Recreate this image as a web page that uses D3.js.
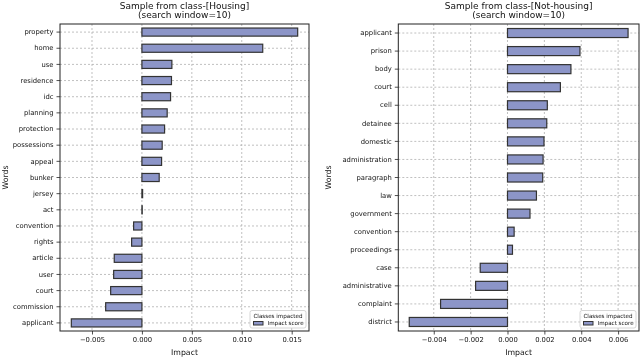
<!DOCTYPE html>
<meta charset="utf-8">
<style>
    body { margin: 0; background: #fff; }
    svg { display: block; font-family: "DejaVu Sans", sans-serif; will-change: transform; }
</style>
<body>
<script src="https://cdn.jsdelivr.net/npm/d3@7"></script>
<script>
// left panel: class Housing
var housingWords = ["property", "home", "use", "residence", "idc", "planning", "protection",
    "possessions", "appeal", "bunker", "jersey", "act", "convention", "rights", "article",
    "user", "court", "commission", "applicant"];
var housingImpact = [0.0156, 0.0121, 0.0030, 0.00296, 0.00287, 0.00253, 0.00227,
    0.00203, 0.00197, 0.00173, 0.00007, 0.00003, -0.00083, -0.00103, -0.00277,
    -0.00283, -0.00313, -0.00363, -0.00707];
var housingTicks = [-0.005, 0.000, 0.005, 0.010, 0.015];

// right panel: class Not-housing
var notHousingWords = ["applicant", "prison", "body", "court", "cell", "detainee", "domestic",
    "administration", "paragraph", "law", "government", "convention", "proceedings", "case",
    "administrative", "complaint", "district"];
var notHousingImpact = [0.00654, 0.00393, 0.00344, 0.00287, 0.00216, 0.00213, 0.00198,
    0.00193, 0.00191, 0.00157, 0.00122, 0.00036, 0.00027, -0.00148,
    -0.00173, -0.00363, -0.00533];
var notHousingTicks = [-0.004, -0.002, 0.000, 0.002, 0.004, 0.006];

var width = 640, height = 358;
var svg = d3.select("body").append("svg")
    .attr("width", width)
    .attr("height", height);

function drawPanel(opts) {
    var words = opts.words, vals = opts.values;
    var lo = d3.min(vals), hi = d3.max(vals), pad = (hi - lo) * 0.05;

    var x = d3.scaleLinear().domain([lo - pad, hi + pad]).range([opts.left, opts.right]);
    var y = d3.scaleBand().domain(words).range([opts.top, opts.bottom])
        .paddingInner(0.5).paddingOuter(0.25);

    var g = svg.append("g");

    // grid
    g.selectAll(".vgrid").data(opts.ticks).enter().append("line")
        .attr("x1", function (d) { return x(d); })
        .attr("x2", function (d) { return x(d); })
        .attr("y1", opts.top).attr("y2", opts.bottom)
        .attr("stroke", "#b0b0b0").attr("stroke-width", 0.8)
        .attr("stroke-dasharray", "2,2");
    g.selectAll(".hgrid").data(words).enter().append("line")
        .attr("x1", opts.left).attr("x2", opts.right)
        .attr("y1", function (d) { return y(d) + y.bandwidth() / 2; })
        .attr("y2", function (d) { return y(d) + y.bandwidth() / 2; })
        .attr("stroke", "#b0b0b0").attr("stroke-width", 0.8)
        .attr("stroke-dasharray", "2,2");

    // bars
    g.selectAll(".bar").data(vals).enter().append("rect")
        .attr("x", function (d) { return x(Math.min(0, d)); })
        .attr("y", function (d, i) { return y(words[i]); })
        .attr("width", function (d) { return Math.abs(x(d) - x(0)); })
        .attr("height", y.bandwidth())
        .attr("fill", "#8c95c8")
        .attr("stroke", "#333")
        .attr("stroke-width", 1.2);

    // axes
    var xAxis = d3.axisBottom(x).tickValues(opts.ticks).tickSize(3.5).tickPadding(3)
        .tickFormat(d3.format(".3f"));
    var ax = g.append("g").attr("transform", "translate(0," + opts.bottom + ")").call(xAxis);
    var yAxis = d3.axisLeft(y).tickSize(3.5).tickPadding(3);
    var ay = g.append("g").attr("transform", "translate(" + opts.left + ",0)").call(yAxis);
    [ax, ay].forEach(function (a) {
        a.select(".domain").remove();
        a.selectAll("text").attr("font-size", 6.8).attr("fill", "#111")
            .attr("font-family", "DejaVu Sans, sans-serif");
        a.selectAll("line").attr("stroke", "#222").attr("stroke-width", 0.8);
    });
    ax.selectAll("text").text(function (d) { return d3.format(".3f")(d).replace("-", "\u2212"); });

    // frame
    g.append("rect")
        .attr("x", opts.left).attr("y", opts.top)
        .attr("width", opts.right - opts.left).attr("height", opts.bottom - opts.top)
        .attr("fill", "none").attr("stroke", "#222").attr("stroke-width", 1);

    // titles
    var cx = (opts.left + opts.right) / 2;
    g.append("text").attr("x", cx).attr("y", 8.5).attr("text-anchor", "middle")
        .attr("font-size", 9).attr("fill", "#111").text(opts.title);
    g.append("text").attr("x", cx).attr("y", 18).attr("text-anchor", "middle")
        .attr("font-size", 9).attr("fill", "#111").text("(search window=10)");
    g.append("text").attr("x", cx).attr("y", 355).attr("text-anchor", "middle")
        .attr("font-size", 7.8).attr("fill", "#111").text("Impact");
    g.append("text")
        .attr("transform", "translate(" + opts.ylabelX + "," + ((opts.top + opts.bottom) / 2) + ") rotate(-90)")
        .attr("text-anchor", "middle").attr("font-size", 7.8).attr("fill", "#111").text("Words");

    // legend
    var lw = 56, lh = 17.5, lx = opts.right - 3 - lw, ly = opts.bottom - 3 - lh;
    var leg = g.append("g").attr("transform", "translate(" + lx + "," + ly + ")");
    leg.append("rect").attr("width", lw).attr("height", lh).attr("rx", 2)
        .attr("fill", "#fff").attr("fill-opacity", 0.85)
        .attr("stroke", "#ccc").attr("stroke-width", 0.8);
    leg.append("text").attr("x", lw / 2).attr("y", 7).attr("text-anchor", "middle")
        .attr("font-size", 5.6).attr("fill", "#111").text("Classes impacted");
    leg.append("rect").attr("x", 3.5).attr("y", 11).attr("width", 9.5).attr("height", 3.5)
        .attr("fill", "#8c95c8").attr("stroke", "#333").attr("stroke-width", 1);
    leg.append("text").attr("x", 17.5).attr("y", 14.8)
        .attr("font-size", 5.6).attr("fill", "#111").text("Impact score");
}

drawPanel({
    words: housingWords, values: housingImpact, ticks: housingTicks,
    left: 60, right: 309, top: 24, bottom: 331, ylabelX: 8,
    title: "Sample from class-[Housing]"
});
drawPanel({
    words: notHousingWords, values: notHousingImpact, ticks: notHousingTicks,
    left: 398.3, right: 639, top: 24, bottom: 331, ylabelX: 331,
    title: "Sample from class-[Not-housing]"
});
</script>
</body>
